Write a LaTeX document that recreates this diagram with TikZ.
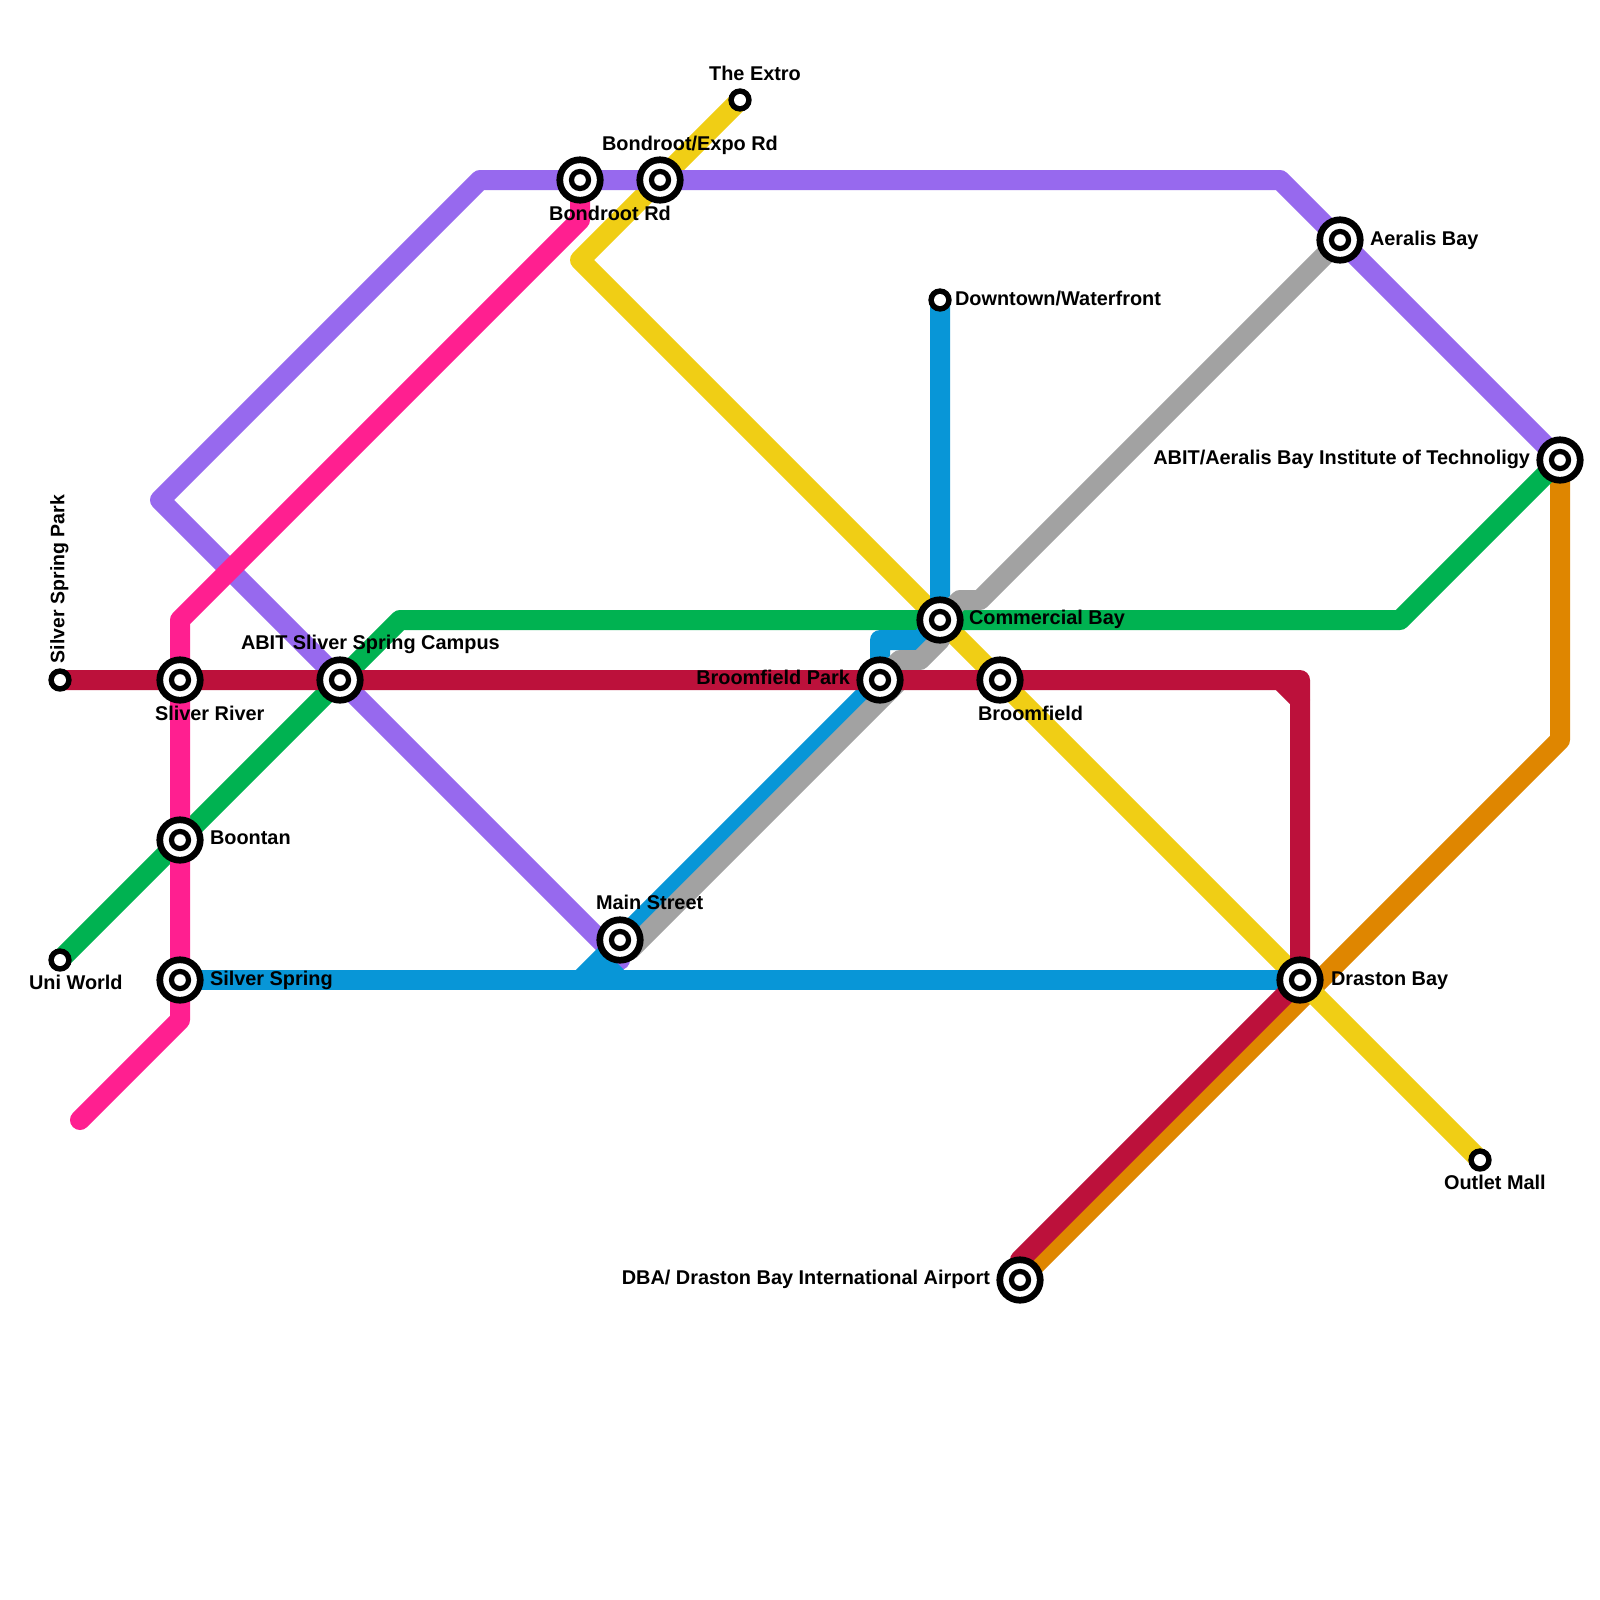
\documentclass[tikz,border=0pt]{standalone}
\usepackage{fontspec}
\setmainfont{Liberation Sans}[BoldFont={Liberation Sans Bold}]
\usetikzlibrary{backgrounds}
\definecolor{cPurple}{HTML}{9769EE}
\definecolor{cPink}{HTML}{FF1F90}
\definecolor{cRed}{HTML}{BC113B}
\definecolor{cGreen}{HTML}{00B251}
\definecolor{cBlue}{HTML}{0896D7}
\definecolor{cGray}{HTML}{A2A2A2}
\definecolor{cYellow}{HTML}{F0CE15}
\definecolor{cOrange}{HTML}{DF8600}
\tikzset{
 x=0.5pt,y=-0.5pt,
 stnode/.style={circle,inner sep=0pt,outer sep=0pt,minimum size=0pt},
 metro/.style={line width=10pt,line join=round,line cap=round},
 lab/.style={font=\bfseries\fontsize{9.95}{12}\selectfont,text=black,inner sep=0pt,outer sep=0pt},
}
\newcommand\stsmall[2]{%
  \node[stnode] (#1) at (#2) {};
  \fill[black] (#1.center) circle (5.85pt);
  \fill[white] (#1.center) circle (3pt);}
\newcommand\stbig[2]{%
  \node[stnode] (#1) at (#2) {};
  \fill[black] (#1.center) circle (11.8pt);
  \fill[white] (#1.center) circle (8.4pt);
  \fill[black] (#1.center) circle (5.6pt);
  \fill[white] (#1.center) circle (2.9pt);}
\begin{document}
\begin{tikzpicture}
\useasboundingbox (0,0) rectangle (1600,1600);
% stations
\stsmall{ssp}{60,680}
\stbig{river}{180,680}
\stbig{abits}{340,680}
\stbig{bfpark}{880,680}
\stbig{bf}{1000,680}
\stbig{comm}{940,620}
\stsmall{down}{940,300}
\stbig{aer}{1340,240}
\stbig{abita}{1560,460}
\stbig{drast}{1300,980}
\stsmall{outlet}{1480,1160}
\stbig{dba}{1020,1280}
\stbig{boon}{180,840}
\stbig{sspring}{180,980}
\stsmall{uni}{60,960}
\stbig{main}{620,940}
\stbig{brd}{580,180}
\stbig{bexpo}{660,180}
\stsmall{extro}{740,100}
% free bends
\coordinate (pA) at (160,500);
\coordinate (pB) at (480,180);
\coordinate (pC) at (1280,180);
\coordinate (pD) at (620,960);
\coordinate (yA) at (580,260);
\coordinate (oA) at (1560,740);
\coordinate (gA) at (400,620);
\coordinate (gB) at (1400,620);
\coordinate (kA) at (580,220);
\coordinate (kB) at (180,620);
\coordinate (kC) at (180,1020);
\coordinate (kD) at (80,1120);
\coordinate (bA) at (920,640);
\coordinate (bB) at (880,640);
\coordinate (bC) at (580,980);
\coordinate (bE) at (600,960);
\coordinate (bD) at (620,980);
\coordinate (aA) at (980,600);
\coordinate (aB) at (960,600);
\coordinate (aC) at (940,640);
\coordinate (aD) at (920,660);
\coordinate (aE) at (900,660);
\coordinate (aF) at (900,680);
\coordinate (aG) at (630,950);
\coordinate (rA) at (1300,680);
\coordinate (rB) at (1280,680);
\coordinate (rC) at (1300,700);
\coordinate (rD) at (1020,1260);
\begin{scope}[on background layer]
\fill[white] (0,0) rectangle (1600,1600);
\draw[metro,cOrange] (abita.center) -- (oA) -- (dba.center);
\draw[metro,cYellow] (extro.center) -- (yA) -- (outlet.center);
\draw[metro,cPurple] (abita.center) -- (pC) -- (pB) -- (pA) -- (pD);
\draw[metro,cGreen] (uni.center) -- (gA) -- (gB) -- (abita.center);
\draw[metro,cPink] (brd.center) -- (kA) -- (kB) -- (kC) -- (kD);
\draw[metro,cBlue] (sspring.center) -- (drast.center);
\draw[metro,cBlue] (down.center) -- (comm.center) -- (bA) -- (bB) -- (bfpark.center) -- (bC);
\draw[metro,cBlue,line cap=butt] (bE) -- (bD);
\draw[metro,cGray] (aer.center) -- (aA) -- (aB) -- (comm.center) -- (aC) -- (aD) -- (aE) -- (bfpark.center) -- (aF) -- (aG);
\draw[metro,cRed] (ssp.center) -- (rA) -- (drast.center) -- (rD);
\fill[cRed] (rB) -- (rC) -- (rA) -- cycle;
\draw[metro,cRed] (rB) -- (rC);
\end{scope}
% labels
\node[lab,anchor=mid] (lextro) at (755,75) {The Extro};
\node[lab,anchor=mid] (lbexpo) at (690,145) {Bondroot/Expo Rd};
\node[lab,anchor=mid] (lbrd) at (610,215) {Bondroot Rd};
\node[lab,anchor=mid west] (ldown) at (955,300) {Downtown/Waterfront};
\node[lab,anchor=mid west] (laer) at (1370,240) {Aeralis Bay};
\node[lab,anchor=mid east] (labita) at (1530,459) {ABIT/Aeralis Bay Institute of Technoligy};
\node[lab,anchor=mid west] (lcomm) at (969,619) {Commercial Bay};
\node[lab,anchor=mid west] (labits) at (241,644) {ABIT Sliver Spring Campus};
\node[lab,anchor=mid west,rotate=90,font=\bfseries\fontsize{9.75}{12}\selectfont] (lssp) at (59,663) {Silver Spring Park};
\node[lab,anchor=mid west] (lriver) at (155,715) {Sliver River};
\node[lab,anchor=mid east] (lbfpark) at (850,679) {Broomfield Park};
\node[lab,anchor=mid west] (lbf) at (978,715) {Broomfield};
\node[lab,anchor=mid west] (lboon) at (210,839) {Boontan};
\node[lab,anchor=mid west] (lmain) at (596,904) {Main Street};
\node[lab,anchor=mid west] (lsspring) at (210,980) {Silver Spring};
\node[lab,anchor=mid west] (ldrast) at (1331,980) {Draston Bay};
\node[lab,anchor=mid west] (luni) at (29,984) {Uni World};
\node[lab,anchor=mid west] (loutlet) at (1444,1184) {Outlet Mall};
\node[lab,anchor=mid east] (ldba) at (990,1279) {DBA/ Draston Bay International Airport};
\end{tikzpicture}
\end{document}
